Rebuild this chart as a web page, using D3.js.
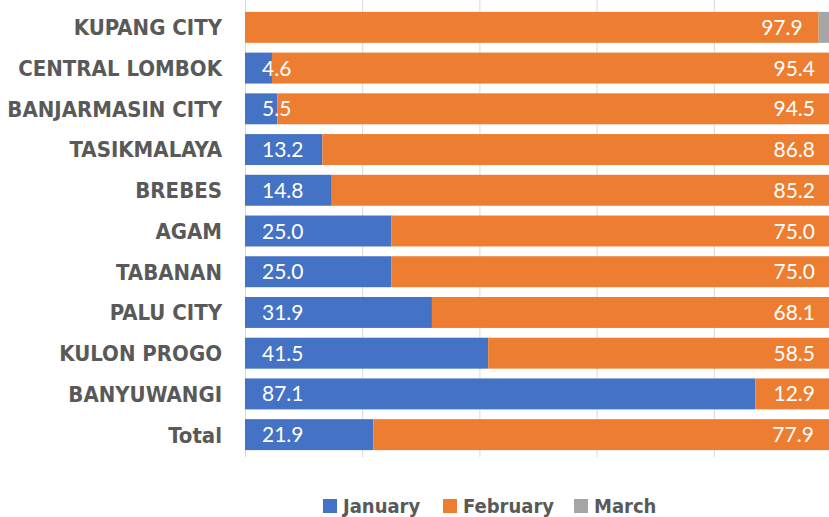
<!DOCTYPE html>
<html>
<head>
<meta charset="utf-8">
<script src="https://cdn.jsdelivr.net/npm/d3@7"></script>
<style>
  body { margin: 0; background: #fff; }
  .cat { font-family: "DejaVu Sans Condensed", "DejaVu Sans", sans-serif; font-stretch: condensed; font-weight: bold; fill: #595959; }
  .val { font-family: Lato, "Open Sans", sans-serif; fill: #fff; }
</style>
</head>
<body>
<svg id="chart" width="829" height="517"></svg>
<script>
var categories = ["KUPANG CITY", "CENTRAL LOMBOK", "BANJARMASIN CITY", "TASIKMALAYA", "BREBES",
  "AGAM", "TABANAN", "PALU CITY", "KULON PROGO", "BANYUWANGI", "Total"];
var january = [0, 4.6, 5.5, 13.2, 14.8, 25.0, 25.0, 31.9, 41.5, 87.1, 21.9];
var february = [97.9, 95.4, 94.5, 86.8, 85.2, 75.0, 75.0, 68.1, 58.5, 12.9, 77.9];
var march = [2.1, 0, 0, 0, 0, 0, 0, 0, 0, 0, 0.2];
var seriesNames = ["January", "February", "March"];
var colors = ["#4472C4", "#ED7D31", "#A5A5A5"];
var xTicks = [0, 20, 40, 60, 80, 100];

var svg = d3.select("#chart");
var x = d3.scaleLinear().domain([0, 100]).range([245, 831]);
var y = d3.scaleBand().domain(categories).range([7, 455]).paddingInner(0.24).paddingOuter(0.12);

// gridlines
svg.append("g").selectAll("line").data(xTicks).join("line")
  .attr("x1", function (d) { return x(d) + 0.5; }).attr("x2", function (d) { return x(d) + 0.5; })
  .attr("y1", 0).attr("y2", 457)
  .attr("stroke", "#D9D9D9").attr("stroke-width", 1);

var rows = categories.map(function (c, i) {
  return { cat: c, vals: [january[i], february[i], march[i]] };
});
var stack = [];
rows.forEach(function (r) {
  var acc = 0;
  r.vals.forEach(function (v, k) {
    stack.push({ cat: r.cat, k: k, x0: acc, x1: acc + v, v: v });
    acc += v;
  });
});

svg.append("g").selectAll("rect").data(stack.filter(function (d) { return d.v > 0; })).join("rect")
  .attr("x", function (d) { return x(d.x0); })
  .attr("width", function (d) { return x(d.x1) - x(d.x0); })
  .attr("y", function (d) { return y(d.cat); })
  .attr("height", y.bandwidth())
  .attr("fill", function (d) { return colors[d.k]; });

// January labels, inside base
svg.append("g").selectAll("text").data(stack.filter(function (d) { return d.k === 0 && d.v > 0; })).join("text")
  .attr("class", "val")
  .attr("x", function (d) { return x(d.x0) + 17; })
  .attr("y", function (d) { return y(d.cat) + y.bandwidth() / 2; })
  .attr("dy", "0.36em")
  .style("font-size", "21px")
  .text(function (d) { return d.v.toFixed(1); });

// February labels, inside end
svg.append("g").selectAll("text").data(stack.filter(function (d) { return d.k === 1 && d.v > 0; })).join("text")
  .attr("class", "val")
  .attr("x", function (d) { return x(d.x1) - 16; })
  .attr("y", function (d) { return y(d.cat) + y.bandwidth() / 2; })
  .attr("dy", "0.36em")
  .attr("text-anchor", "end")
  .style("font-size", "21px")
  .text(function (d) { return d.v.toFixed(1); });

// category labels
svg.append("g").selectAll("text").data(categories).join("text")
  .attr("class", "cat")
  .attr("x", 222)
  .attr("y", function (d) { return y(d) + y.bandwidth() / 2; })
  .attr("dy", "0.36em")
  .attr("text-anchor", "end")
  .style("font-size", "22px")
  .text(function (d) { return d; });

// legend
var legendX = [323, 443, 574];
var lg = svg.append("g").selectAll("g").data(seriesNames).join("g")
  .attr("transform", function (d, i) { return "translate(" + legendX[i] + ",499)"; });
lg.append("rect").attr("width", 14).attr("height", 14)
  .attr("fill", function (d, i) { return colors[i]; });
lg.append("text").attr("class", "cat")
  .attr("x", 20).attr("y", 7).attr("dy", "0.36em")
  .style("font-size", "20px")
  .text(function (d) { return d; });
</script>
</body>
</html>
